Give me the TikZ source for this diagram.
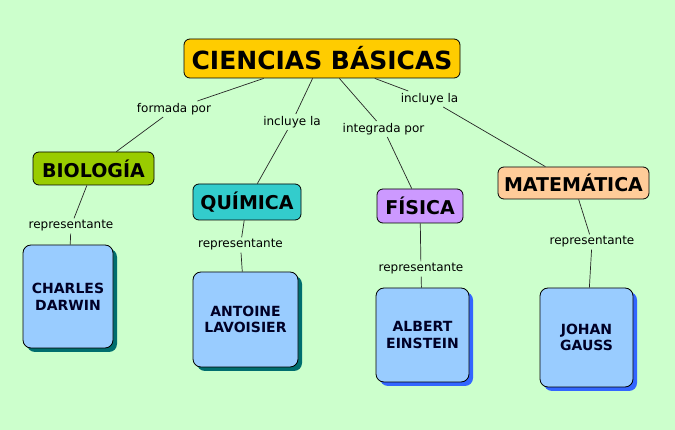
\documentclass[tikz,border=0pt]{standalone}
\usepackage{fontspec}
\setmainfont{DejaVu Sans}
\usetikzlibrary{shadows}

\definecolor{fondo}{RGB}{204,255,204}
\definecolor{oro}{RGB}{255,204,0}
\definecolor{verde}{RGB}{153,204,0}
\definecolor{turquesa}{RGB}{51,204,204}
\definecolor{lila}{RGB}{204,153,255}
\definecolor{salmon}{RGB}{255,204,153}
\definecolor{celeste}{RGB}{153,204,255}
\definecolor{sombrateal}{RGB}{0,110,110}
\definecolor{sombraazul}{RGB}{51,102,255}

\tikzset{
  persona/.style={draw=black,fill=celeste,rounded corners=8pt,line width=0.8pt,
    align=center,font=\bfseries\fontsize{14}{16.7}\selectfont,text=black!85!blue},
  sombraT/.style={drop shadow={shadow xshift=4pt,shadow yshift=-4pt,fill=sombrateal,opacity=1}},
  sombraA/.style={drop shadow={shadow xshift=4pt,shadow yshift=-4pt,fill=sombraazul,opacity=1}}
}

\begin{document}
\begin{tikzpicture}[x=1pt,y=-1pt]
\fill[fondo] (0,0) rectangle (675,430);

\begin{scope}[every node/.style={draw=black,rounded corners=6pt,line width=0.8pt,
              font=\bfseries\fontsize{19}{22}\selectfont}]
  \node[fill=oro,minimum width=276pt,minimum height=39pt,
        font=\bfseries\fontsize{25}{28}\selectfont] (CB) at (322,58.5) {CIENCIAS BÁSICAS};
  \node[fill=verde,minimum width=121pt,minimum height=33pt] (BIO) at (93.5,168.5) {BIOLOGÍA};
  \node[fill=turquesa,minimum width=108pt,minimum height=36pt] (QUI) at (247,202) {QUÍMICA};
  \node[fill=lila,minimum width=86pt,minimum height=34pt] (FIS) at (420,206) {FÍSICA};
  \node[fill=salmon,minimum width=151pt,minimum height=32pt] (MAT) at (573.5,183) {MATEMÁTICA};
\end{scope}

\node[persona,sombraT,minimum width=90pt,minimum height=103pt] (DAR) at (68,296.5) {CHARLES\\DARWIN};
\node[persona,sombraT,minimum width=105pt,minimum height=95pt] (LAV) at (245.5,319.5) {ANTOINE\\LAVOISIER};
\node[persona,sombraA,minimum width=93pt,minimum height=94pt] (EIN) at (422.5,335) {ALBERT\\EINSTEIN};
\node[persona,sombraA,minimum width=93pt,minimum height=99pt] (GAU) at (586.5,337.5) {JOHAN\\GAUSS};

\begin{scope}[every node/.style={inner sep=2pt,font=\fontsize{12}{13}\selectfont}]
  \node (fp) at (174,109) {formada por};
  \node (il1) at (292,122) {incluye la};
  \node (ip) at (383.5,129) {integrada por};
  \node (il2) at (429.5,99) {incluye la};
  \node (r1) at (71,226) {representante};
  \node (r2) at (240.5,245) {representante};
  \node (r3) at (421,269) {representante};
  \node (r4) at (592,242) {representante};
\end{scope}

\begin{scope}[every edge/.style={draw=black!85,line width=0.7pt}]
  \path (CB) edge (fp) (fp) edge (BIO);
  \path (CB) edge (il1) (il1) edge (QUI);
  \path (CB) edge (ip) (ip) edge (FIS);
  \path (CB) edge (il2) (il2) edge (MAT);
  \path (BIO) edge (r1) (r1) edge (DAR);
  \path (QUI) edge (r2) (r2) edge (LAV);
  \path (FIS) edge (r3) (r3) edge (EIN);
  \path (MAT) edge (r4) (r4) edge (GAU);
\end{scope}
\end{tikzpicture}
\end{document}
